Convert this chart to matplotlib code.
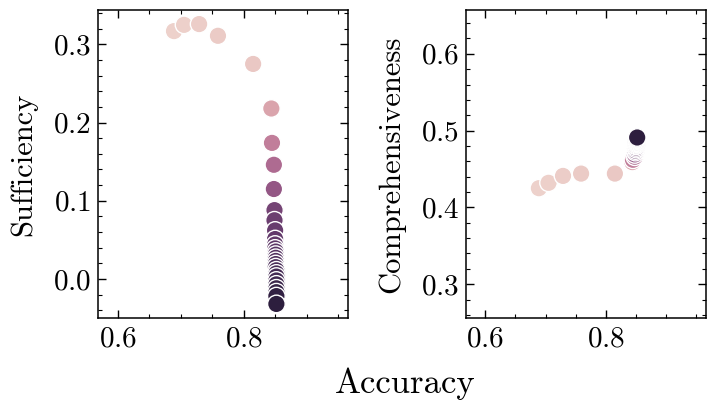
import numpy as np
import matplotlib
matplotlib.use('Agg')
import matplotlib.pyplot as plt
from matplotlib.ticker import MultipleLocator
import seaborn as sns

# one point per run, same runs in both panels
accuracy = [0.689, 0.705, 0.729, 0.759, 0.815, 0.844, 0.845, 0.848, 0.848,
            0.849, 0.849, 0.850, 0.850, 0.850, 0.850, 0.851, 0.851, 0.851,
            0.851, 0.851, 0.851, 0.852, 0.852, 0.852, 0.852, 0.852, 0.852,
            0.852, 0.852, 0.852]
sufficiency = [0.317, 0.325, 0.326, 0.311, 0.275, 0.218, 0.174, 0.146, 0.115,
               0.088, 0.075, 0.062, 0.051, 0.044, 0.039, 0.035, 0.031, 0.027,
               0.023, 0.019, 0.015, 0.011, 0.007, 0.003, -0.002, -0.007,
               -0.012, -0.017, -0.022, -0.032]
comprehensiveness = [0.425, 0.432, 0.441, 0.444, 0.444, 0.459, 0.462, 0.466,
                     0.469, 0.472, 0.474, 0.476, 0.478, 0.480, 0.481, 0.482,
                     0.483, 0.484, 0.485, 0.486, 0.486, 0.487, 0.487, 0.488,
                     0.488, 0.489, 0.489, 0.490, 0.490, 0.491]
level = [0.0, 0.01, 0.02, 0.03, 0.04, 0.2, 0.38, 0.48, 0.6, 0.72, 0.75,
         0.77, 0.79, 0.8, 0.81, 0.82, 0.83, 0.84, 0.85, 0.86, 0.87, 0.88,
         0.89, 0.9, 0.91, 0.92, 0.94, 0.96, 0.98, 1.0]

plt.rcParams.update({
    'font.family': 'serif',
    'font.serif': ['cmr10'],
    'axes.formatter.use_mathtext': True,
    'font.size': 21,
    'axes.labelsize': 22,
    'axes.linewidth': 1.1,
    'xtick.direction': 'in',
    'ytick.direction': 'in',
    'xtick.top': True,
    'ytick.right': True,
    'xtick.major.size': 5.5,
    'ytick.major.size': 5.5,
    'xtick.minor.size': 3,
    'ytick.minor.size': 3,
    'xtick.major.width': 1.0,
    'ytick.major.width': 1.0,
    'xtick.minor.width': 0.8,
    'ytick.minor.width': 0.8,
    'xtick.minor.visible': True,
    'ytick.minor.visible': True,
    'xtick.major.pad': 6,
    'ytick.major.pad': 5,
})

cmap = sns.cubehelix_palette(as_cmap=True)

fig = plt.figure(figsize=(7.07, 4.0), dpi=100)
ax1 = fig.add_axes([0.1386, 0.205, 0.3536, 0.77])
ax2 = fig.add_axes([0.659, 0.205, 0.3395, 0.77])

for ax, y, name in [(ax1, sufficiency, 'Sufficiency'),
                    (ax2, comprehensiveness, 'Comprehensiveness')]:
    ax.scatter(accuracy, y, c=level, cmap=cmap, vmin=0, vmax=1, s=160,
               edgecolors='white', linewidths=1.0)
    ax.set_ylabel(name, labelpad=11)
    ax.set_xlim(0.568, 0.966)
    ax.xaxis.set_major_locator(MultipleLocator(0.2))
    ax.xaxis.set_minor_locator(MultipleLocator(0.05))
    ax.yaxis.set_major_locator(MultipleLocator(0.1))
    ax.yaxis.set_minor_locator(MultipleLocator(0.02))

ax1.set_ylim(-0.05, 0.344)
ax2.set_ylim(0.256, 0.657)

fig.text(0.573, 0.04, 'Accuracy', ha='center', va='center', fontsize=25)

fig.savefig('out.png', dpi=100)
